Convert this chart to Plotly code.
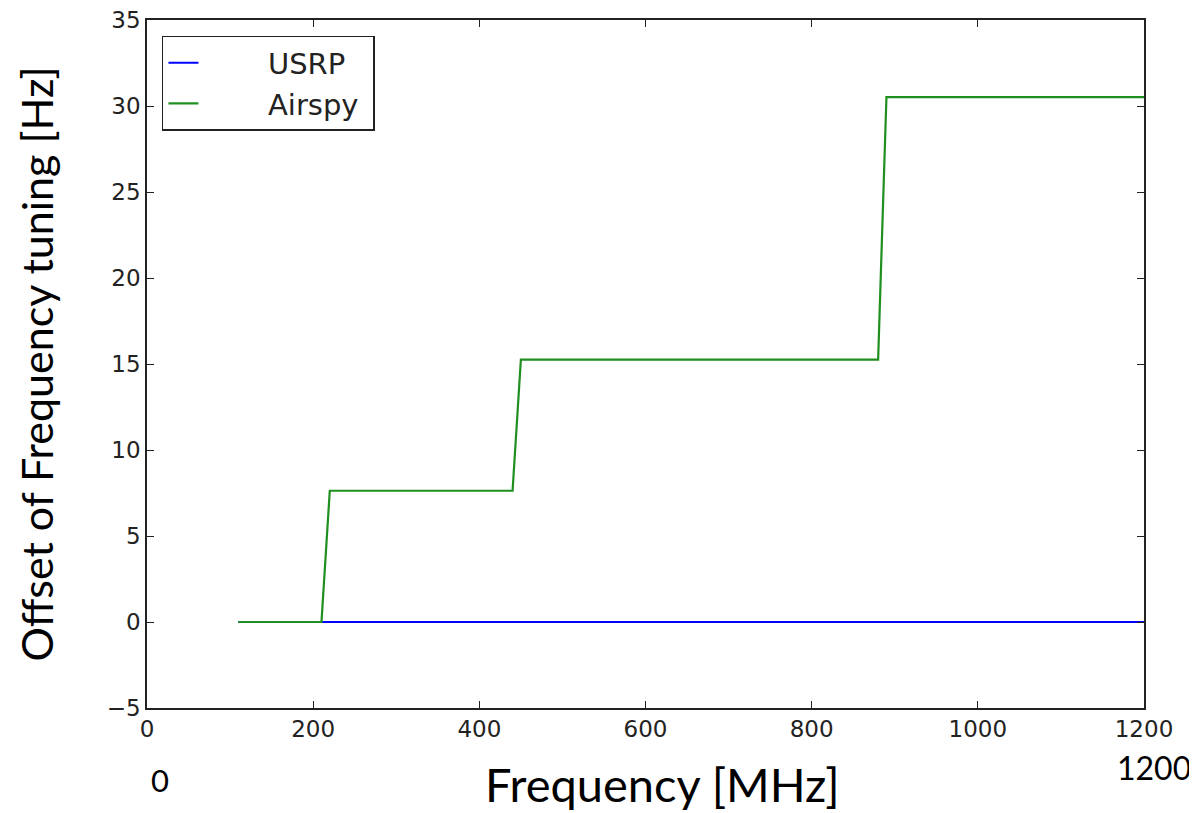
import plotly.graph_objects as go

# frequency [MHz] at the corners of each curve
usrp_freq = [110, 1200]
usrp_offset = [0.0, 0.0]

airspy_freq = [110, 210, 220, 440, 450, 880, 890, 1200]
airspy_offset = [0.0, 0.0, 7.63, 7.63, 15.26, 15.26, 30.52, 30.52]

x_ticks = [0, 200, 400, 600, 800, 1000, 1200]
y_ticks = [-5, 0, 5, 10, 15, 20, 25, 30, 35]

nb = "\u00a0"  # non-breaking spaces used as padding in the legend

fig = go.Figure()
fig.add_trace(go.Scatter(x=usrp_freq, y=usrp_offset, mode="lines", name=nb * 7 + "USRP",
                         line=dict(color="#0000ff", width=2)))
fig.add_trace(go.Scatter(x=airspy_freq, y=airspy_offset, mode="lines",
                         name=nb * 7 + "Airspy" + nb,
                         line=dict(color="#1f8f1f", width=2.2)))

tick_font = dict(family="DejaVu Sans", size=23, color="#222222")
axis_common = dict(showgrid=False, zeroline=False, showline=True, linecolor="#222222",
                   linewidth=1.5, mirror="ticks", ticks="inside", ticklen=7,
                   tickwidth=1, tickcolor="#222222", tickfont=tick_font, automargin=False,
                   ticklabeloverflow="allow")

fig.update_xaxes(range=[0, 1200], tickvals=x_ticks, **axis_common)
fig.update_yaxes(range=[-5, 35], tickvals=y_ticks, **axis_common,
                 title=dict(text="Offset of Frequency tuning [Hz]", standoff=40,
                            font=dict(family="Lato", size=43, color="black")))

# x axis title sits a little right of centre in the original
fig.add_annotation(x=0.517, y=-0.11, xref="paper", yref="paper", yanchor="middle",
                   text="Frequency [MHz]", showarrow=False,
                   font=dict(family="Lato", size=47, color="black"))
fig.add_annotation(x=0, y=-0.105, xref="x", yref="paper", yanchor="middle", text="0",
                   showarrow=False, xshift=13, font=dict(family="Lato", size=31, color="black"))
fig.add_annotation(x=1200, y=-0.087, xref="x", yref="paper", yanchor="middle",
                   xanchor="right", text="1200", showarrow=False, xshift=49,
                   font=dict(family="Lato", size=32, color="black"))

fig.update_layout(width=1189, height=805, plot_bgcolor="white", paper_bgcolor="white",
                  margin=dict(l=139, r=53, t=12, b=105),
                  legend=dict(x=0.015, y=0.977, xanchor="left", yanchor="top",
                              bgcolor="white", bordercolor="#222222", borderwidth=1.5,
                              font=dict(family="DejaVu Sans", size=29, color="#222222")))

fig.write_html("out.html")
